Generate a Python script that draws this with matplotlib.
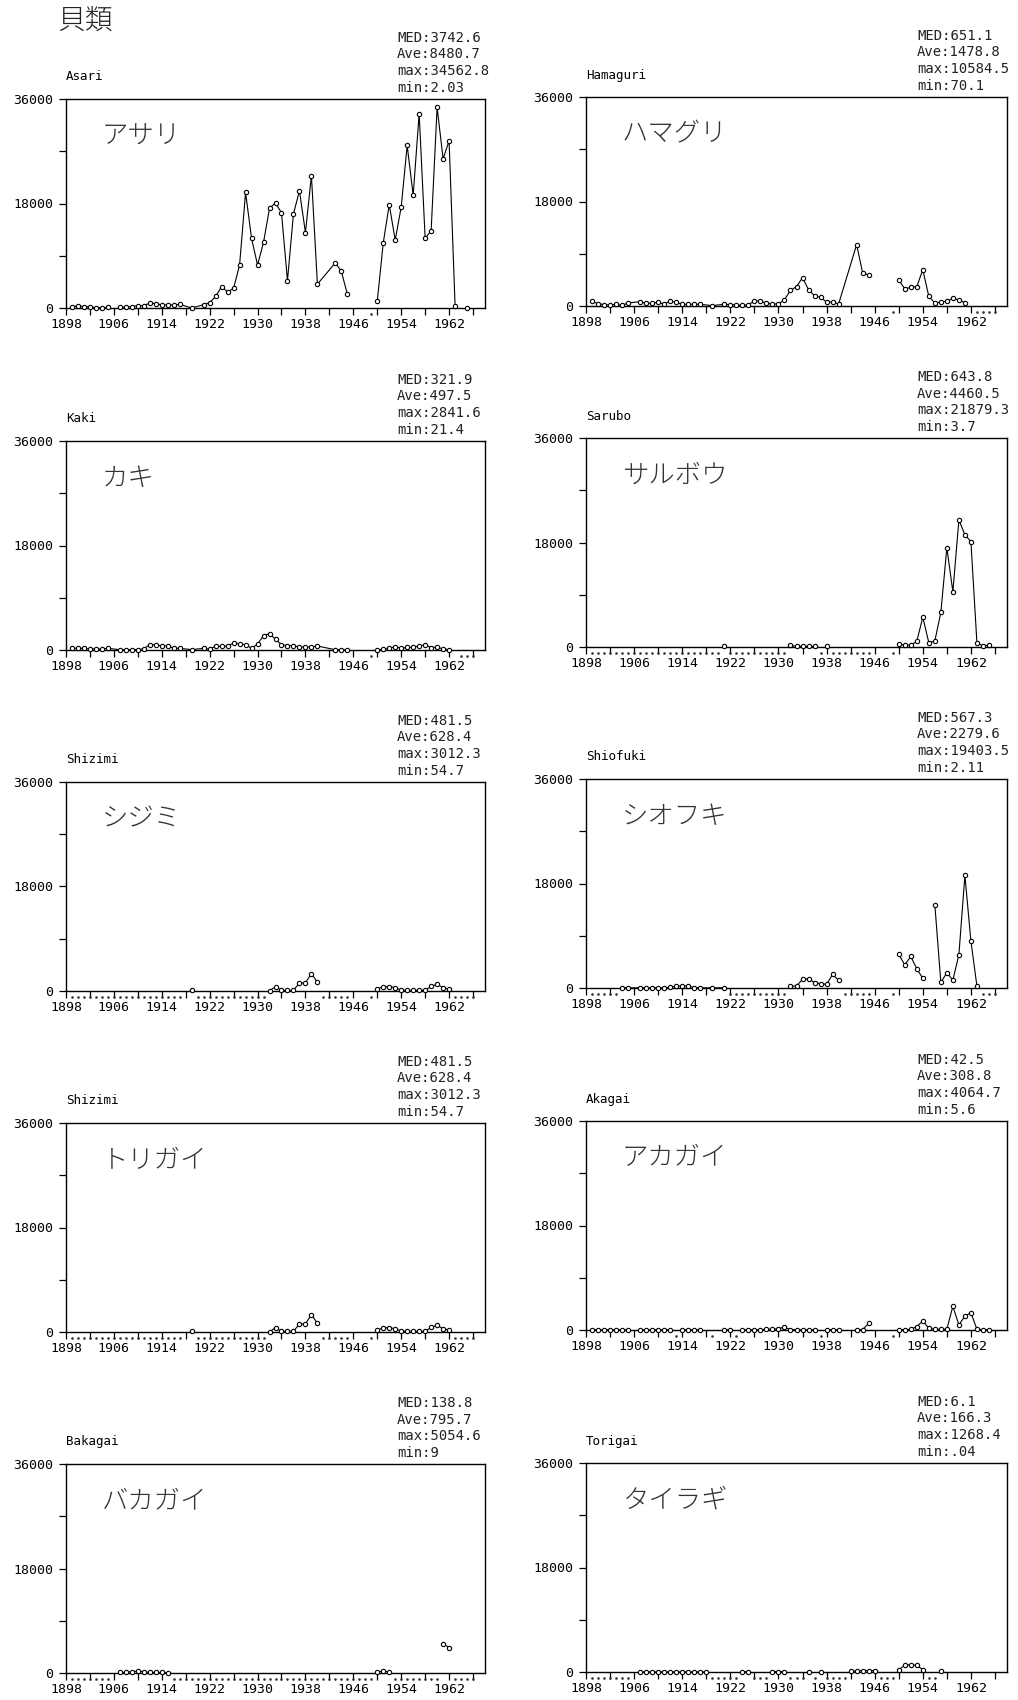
import matplotlib
matplotlib.use('Agg')
import matplotlib.pyplot as plt
import matplotlib.transforms as mtransforms
import numpy as np

nan = np.nan

# ---- data (catch per year) ----
asari_years = [1899, 1900, 1901, 1902, 1903, 1904, 1905, 1906,
               1907, 1908, 1909, 1910, 1911, 1912, 1913, 1914, 1915, 1916, 1917, 1919,
               1921, 1922, 1923, 1924, 1925, 1926, 1927, 1928, 1929, 1930, 1931, 1932,
               1933, 1934, 1935, 1936, 1937, 1938, 1939, 1940, 1943, 1944, 1945, 1946,
               1950, 1951, 1952, 1953, 1954, 1955, 1956, 1957, 1958, 1959, 1960, 1961,
               1962, 1963, 1964, 1965]
asari_vals = [170, 400, 230, 230, 60, 60, 110, nan,
              110, 170, 230, 400, 400, 860, 750, 520, 520, 520, 630, 2,
              570, 920, 2000, 3700, 2750, 3400, 7400, 19900, 12000, 7400, 11300, 17200,
              18100, 16400, 4700, 16200, 20200, 13000, 22800, 4100, 7800, 6300, 2400, nan,
              1150, 11200, 17800, 11700, 17400, 28000, 19400, 33500, 12000, 13300, 34563, 25700,
              28800, 400, nan, 50]
asari_dots = [1949]

hamaguri_years = [1899, 1900, 1901, 1902, 1903, 1904, 1905, 1907, 1908, 1909, 1910,
                  1911, 1912, 1913, 1914, 1915, 1916, 1917, 1919, 1921, 1922, 1923,
                  1924, 1925, 1926, 1927, 1928, 1929, 1930, 1931, 1932, 1933, 1934,
                  1935, 1936, 1937, 1938, 1939, 1940, 1943, 1944, 1945, 1946,
                  1950, 1951, 1952, 1953, 1954, 1955, 1956, 1957, 1958, 1959, 1960, 1961]
hamaguri_vals = [800, 400, 230, 170, 290, 115, 520, 750, 460, 460, 630,
                 340, 860, 630, 290, 290, 290, 290, 70, 290, 230, 170,
                 115, 230, 860, 860, 460, 340, 340, 1090, 2700, 3330, 4880,
                 2810, 1780, 1490, 690, 690, 340, 10585, 5680, 5340, nan,
                 4530, 2930, 3210, 3330, 6260, 1660, 520, 690, 800, 1320, 1030, 570]
hamaguri_dots = [1949, 1963, 1964, 1965, 1966]

kaki_years = [1899, 1900, 1901, 1902, 1903, 1904, 1905, 1907, 1908, 1909, 1910,
              1911, 1912, 1913, 1914, 1915, 1916, 1917, 1919, 1921, 1922, 1923,
              1924, 1925, 1926, 1927, 1928, 1929, 1930, 1931, 1932, 1933, 1934,
              1935, 1936, 1937, 1938, 1939, 1940, 1943, 1944, 1945, 1946,
              1950, 1951, 1952, 1953, 1954, 1955, 1956, 1957, 1958, 1959, 1960,
              1961, 1962]
kaki_vals = [290, 290, 290, 170, 170, 170, 290, 50, 50, 60, 60,
             230, 920, 920, 690, 690, 290, 290, 60, 290, 170, 630,
             630, 690, 1200, 1030, 920, 290, 1030, 2470, 2842, 1840, 920,
             750, 750, 520, 520, 520, 690, 40, 40, 21, nan,
             60, 115, 290, 570, 290, 460, 460, 690, 920, 400, 520,
             170, 60]
kaki_dots = [1949, 1964, 1965, 1966]

sarubo_years = [1921, 1922, 1932, 1933, 1934, 1935, 1936, 1937, 1938, 1939,
                1950, 1951, 1952, 1953, 1954, 1955, 1956, 1957, 1958, 1959,
                1960, 1961, 1962, 1963, 1964, 1965]
sarubo_vals = [110, nan, 290, 110, 110, 110, 110, nan, 110, nan,
               570, 290, 340, 970, 5150, 740, 1030, 5950, 17100, 9500,
               21879, 19330, 18130, 690, 230, 290]
sarubo_dots = (list(range(1899, 1921)) + list(range(1922, 1932)) + [1937]
               + list(range(1939, 1946)) + [1949])

shizimi_years = [1919, 1920, 1932, 1933, 1934, 1935, 1936, 1937, 1938, 1939, 1940, 1941,
                 1950, 1951, 1952, 1953, 1954, 1955, 1956, 1957, 1958, 1959, 1960,
                 1961, 1962]
shizimi_vals = [100, nan, 55, 750, 115, 115, 115, 1380, 1380, 3012, 1490, nan,
                400, 690, 750, 570, 170, 115, 115, 115, 115, 800, 1150,
                570, 340]
shizimi_dots = (list(range(1899, 1918)) + list(range(1920, 1932))
                + list(range(1941, 1946)) + [1949] + list(range(1963, 1967)))

shiofuki_years = [1904, 1905, 1907, 1908, 1909, 1910, 1911, 1912, 1913, 1914, 1915,
                  1916, 1917, 1919, 1921, 1922, 1932, 1933, 1934, 1935, 1936, 1937,
                  1938, 1939, 1940, 1941, 1950, 1951, 1952, 1953, 1954, 1955,
                  1956, 1957, 1958, 1959, 1960, 1961, 1962, 1963]
shiofuki_vals = [30, 30, 30, 20, 20, 20, 20, 110, 340, 340, 340,
                 60, 30, 30, 30, nan, 340, 340, 1490, 1600, 920, 740,
                 630, 2350, 1320, nan, 5780, 4000, 5430, 3320, 1660, nan,
                 14360, 970, 2630, 1370, 5720, 19404, 8070, 340]
shiofuki_dots = (list(range(1899, 1904)) + list(range(1922, 1932))
                 + list(range(1941, 1946)) + [1949] + list(range(1964, 1967)))

akagai_years = [1899, 1900, 1901, 1902, 1903, 1904, 1905, 1906,
                1907, 1908, 1909, 1910, 1911, 1912, 1913,
                1914, 1915, 1916, 1917, 1918, 1921, 1922, 1923,
                1924, 1925, 1926, 1927, 1928, 1929, 1930, 1931, 1932, 1933, 1934,
                1935, 1936, 1937, 1938, 1939, 1940, 1941, 1943, 1944, 1945, 1946,
                1950, 1951, 1952, 1953, 1954, 1955, 1956, 1957, 1958, 1959, 1960,
                1961, 1962, 1963, 1964, 1965]
akagai_vals = [60, 40, 40, 40, 40, 40, 40, nan,
               40, 40, 40, 40, 40, 40, nan,
               40, 40, 40, 40, nan, 40, 40, nan,
               40, 40, 40, 60, 100, 150, 230, 500, 60, 40, 40,
               40, 40, nan, 40, 40, 40, nan, 50, 80, 1150, nan,
               40, 50, 100, 600, 1550, 300, 120, 100, 170, 4065, 860,
               2400, 2980, 115, 60, 40]
akagai_dots = [1913, 1919, 1923, 1937, 1949]

bakagai_years = [1907, 1908, 1909, 1910, 1911, 1912, 1913, 1914, 1915, 1916,
                 1950, 1951, 1952, 1953, 1961, 1962]
bakagai_vals = [100, 100, 250, 300, 250, 100, 100, 100, 9, nan,
                170, 340, 170, nan, 5055, 4360]
bakagai_dots = (list(range(1899, 1906)) + list(range(1916, 1950))
                + list(range(1953, 1961)) + list(range(1963, 1967)))

tairagi_years = [1907, 1908, 1909, 1910, 1911, 1912, 1913, 1914, 1915, 1916, 1917, 1918,
                 1919, 1924, 1925, 1926, 1929, 1930, 1931, 1932, 1935, 1936, 1937, 1938,
                 1942, 1943, 1944, 1945, 1946, 1947, 1950, 1951, 1952, 1953, 1954,
                 1955, 1957]
tairagi_vals = [6, 6, 6, 6, 6, 6, 6, 6, 6, 6, 6, 6,
                nan, 40, 40, nan, 60, 60, 60, nan, 50, nan, 60, nan,
                100, 170, 230, 230, 230, nan, 400, 1150, 1268, 1150, 400,
                nan, 115]
tairagi_dots = (list(range(1899, 1906)) + list(range(1919, 1924)) + list(range(1926, 1929))
                + list(range(1932, 1935)) + [1936] + list(range(1938, 1942))
                + list(range(1947, 1950)) + [1955, 1956])

romaji = ['Asari', 'Hamaguri', 'Kaki', 'Sarubo', 'Shizimi',
          'Shiofuki', 'Shizimi', 'Akagai', 'Bakagai', 'Torigai']
names_jp = ['アサリ', 'ハマグリ', 'カキ', 'サルボウ', 'シジミ',
            'シオフキ', 'トリガイ', 'アカガイ', 'バカガイ', 'タイラギ']
stat_med = ['3742.6', '651.1', '321.9', '643.8', '481.5', '567.3', '481.5', '42.5', '138.8', '6.1']
stat_ave = ['8480.7', '1478.8', '497.5', '4460.5', '628.4', '2279.6', '628.4', '308.8', '795.7', '166.3']
stat_max = ['34562.8', '10584.5', '2841.6', '21879.3', '3012.3', '19403.5', '3012.3', '4064.7', '5054.6', '1268.4']
stat_min = ['2.03', '70.1', '21.4', '3.7', '54.7', '2.11', '54.7', '5.6', '9', '.04']

series = [(asari_years, asari_vals, asari_dots),
          (hamaguri_years, hamaguri_vals, hamaguri_dots),
          (kaki_years, kaki_vals, kaki_dots),
          (sarubo_years, sarubo_vals, sarubo_dots),
          (shizimi_years, shizimi_vals, shizimi_dots),
          (shiofuki_years, shiofuki_vals, shiofuki_dots),
          (shizimi_years, shizimi_vals, shizimi_dots),
          (akagai_years, akagai_vals, akagai_dots),
          (bakagai_years, bakagai_vals, bakagai_dots),
          (tairagi_years, tairagi_vals, tairagi_dots)]

plt.rcParams['font.family'] = ['DejaVu Sans Mono']
JP = ['Noto Sans CJK JP', 'DejaVu Sans']

W, H = 1018, 1700
fig = plt.figure(figsize=(W / 100, H / 100), dpi=100)

left_tops = [99, 441, 782, 1123, 1464]
right_tops = [97, 438, 779, 1121, 1463]
AH = 209

fig.text(57 / W, 1 - 21 / H, '貝類', family=JP, fontsize=20, fontweight='light',
         va='center', ha='left', color='#222')

for i, (yrs, vals, dots) in enumerate(series):
    row, col = divmod(i, 2)
    if col == 0:
        x0, aw, top = 66, 419, left_tops[row]
    else:
        x0, aw, top = 586, 421, right_tops[row]
    ax = fig.add_axes([x0 / W, 1 - (top + AH) / H, aw / W, AH / H])

    ax.plot(yrs, vals, color='black', lw=0.8, marker='o', ms=3.1,
            mfc='white', mec='black', mew=0.8, clip_on=False, zorder=3)
    # small dots under the axis for years without record
    trans = mtransforms.blended_transform_factory(ax.transData, ax.transAxes)
    ax.plot(dots, [-0.027] * len(dots), ls='none', marker='s', ms=0.8,
            color='#333', transform=trans, clip_on=False)

    ax.set_xlim(1898, 1968)
    ax.set_ylim(0, 36000)
    xt = list(range(1898, 1967, 4))
    ax.set_xticks(xt)
    ax.set_xticklabels([str(y) if (y - 1898) % 8 == 0 else '' for y in xt])
    ax.set_yticks([0, 9000, 18000, 27000, 36000])
    ax.set_yticklabels(['0', '', '18000', '', '36000'])
    ax.tick_params(direction='out', length=5, width=0.9, labelsize=9.5, colors='black')
    ax.tick_params(axis='x', pad=2)
    ax.tick_params(axis='y', pad=4)
    for s in ax.spines.values():
        s.set_linewidth(1.0)

    ax.text(0, 1 + 22 / AH, romaji[i], transform=ax.transAxes, fontsize=9,
            ha='left', va='center')
    stats = 'MED:%s\nAve:%s\nmax:%s\nmin:%s' % (stat_med[i], stat_ave[i], stat_max[i], stat_min[i])
    ax.text(331 / aw, 1 + 4 / AH, stats, transform=ax.transAxes, fontsize=10,
            ha='left', va='bottom', linespacing=1.25, color='#222')
    ax.text(0.085, 0.825, names_jp[i], transform=ax.transAxes, family=JP,
            fontsize=19, fontweight='light', ha='left', va='center', color='#333')

fig.savefig('out.png', dpi=100)
